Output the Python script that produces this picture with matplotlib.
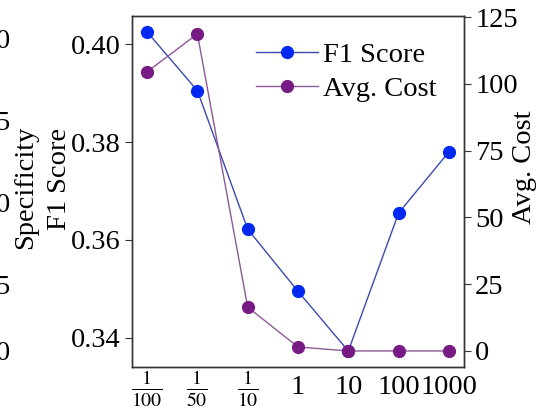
import numpy as np
import matplotlib
matplotlib.use('Agg')
import matplotlib.pyplot as plt
import matplotlib.transforms as mtransforms

plt.rcParams['font.family'] = ['Liberation Serif', 'DejaVu Serif']
plt.rcParams['mathtext.fontset'] = 'stix'
plt.rcParams['font.size'] = 20.5

# x categories (cost weight ratio)
x_labels = [r'$\frac{1}{100}$', r'$\frac{1}{50}$', r'$\frac{1}{10}$', '1', '10', '100', '1000']
f1_score = [0.4025, 0.3905, 0.3622, 0.3495, 0.3373, 0.3655, 0.3780]
avg_cost = [104.5, 118.7, 16.4, 1.5, 0.0, 0.0, 0.0]
cost_ticks = [0, 25, 50, 75, 100, 125]
f1_ticks = [0.34, 0.36, 0.38, 0.40]

W, H = 538, 409
fig = plt.figure(figsize=(W / 100, H / 100), dpi=100)
ax = fig.add_axes([132 / W, 1 - 367 / H, 332 / W, 351 / H])
ax2 = ax.twinx()

xs = np.arange(len(x_labels))
l1, = ax.plot(xs, f1_score, color='#3a4aae', lw=1.0, marker='o', markersize=8.5,
              markerfacecolor='#0028f0', markeredgecolor='#0028f0', label='F1 Score')
l2, = ax2.plot(xs, avg_cost, color='#8c5a96', lw=1.0, marker='o', markersize=8.5,
               markerfacecolor='#781a84', markeredgecolor='#781a84', label='Avg. Cost')

ax.set_xticks(xs)
ax.set_xticklabels(x_labels)
ax.set_yticks(f1_ticks)
ax.set_yticklabels(['%.2f' % t for t in f1_ticks])
ax2.set_yticks(cost_ticks)
ax2.set_ylim(-6, 125.4)

ax.tick_params(axis='x', length=0, pad=6)
ax.tick_params(axis='y', length=5, direction='out', pad=3, color='#333333')
ax2.tick_params(axis='y', length=5, direction='out', pad=3, color='#333333')

# fractions sit higher than the plain numbers
shift = mtransforms.ScaledTranslation(0, 7 / 100, fig.dpi_scale_trans)
for lab in ax.get_xticklabels()[:3]:
    lab.set_transform(lab.get_transform() + shift)

for a in (ax, ax2):
    for s in a.spines.values():
        s.set_color('#333333')
        s.set_linewidth(1.0)

ax.set_ylabel('F1 Score')
ax.yaxis.set_label_coords(-0.181, 0.536)
ax2.set_ylabel('Avg. Cost')
ax2.yaxis.set_label_coords(1.146, 0.57)

ax.legend([l1, l2], ['F1 Score', 'Avg. Cost'], loc='upper right',
          bbox_to_anchor=(0.916, 0.926), frameon=False, borderpad=0,
          borderaxespad=0, handlelength=2.2, handletextpad=0.15,
          labelspacing=0.3)

# pieces of the neighbouring panel cut off at the left edge
for ypix, t in zip([42, 124, 206, 287, 353], ['0', '5', '0', '5', '0']):
    fig.text(10 / W, 1 - ypix / H, t, ha='right', va='center')
fig.text(26 / W, 1 - 187 / H, 'Specificity', rotation=90, ha='center', va='center')

fig.savefig('out.png', dpi=100)
